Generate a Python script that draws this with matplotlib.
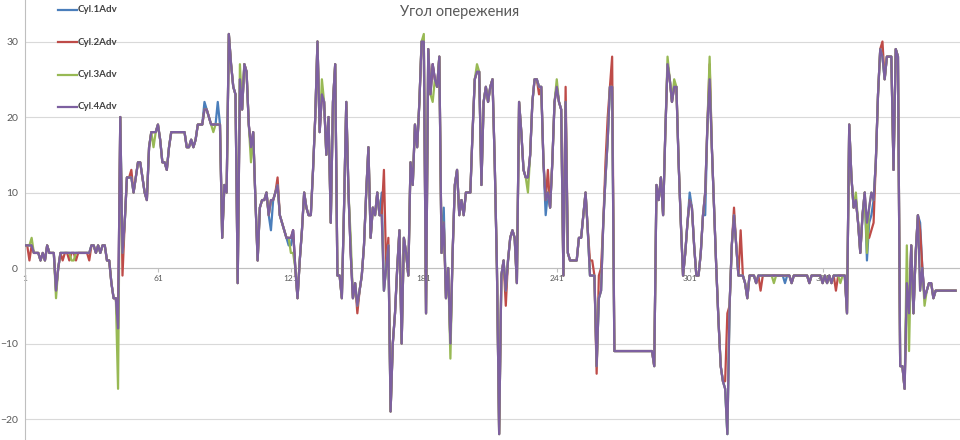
import matplotlib
matplotlib.use("Agg")
import matplotlib.pyplot as plt
from matplotlib.lines import Line2D

title = "Угол опережения"
labels = ["Cyl.1Adv", "Cyl.2Adv", "Cyl.3Adv", "Cyl.4Adv"]
colors = ["#4A7EBB", "#BE4B48", "#98B954", "#7D60A0"]
x_ticks = [1, 61, 121, 181, 241, 301, 361]
y_ticks = [-20, -10, 0, 10, 20, 30]

# Cyl.4Adv (drawn on top), one value per sample 1..421
cyl4 = [
    3, 3, 3, 3, 2, 2, 2, 1, 2, 1, 3, 2, 2, 2, -3, 0,
    2, 2, 2, 2, 2, 2, 2, 2, 2, 2, 2, 2, 2, 2,
    3, 3, 2, 3, 2, 3, 3,
    1, 1, -2, -4, -4, -8, 20, 2, 6,
    12, 12, 12, 10, 12, 14, 14, 12, 10, 9,
    16, 18, 18, 18, 19, 17, 14, 14, 13, 16,
    18, 18, 18, 18, 18, 18, 18,
    16, 16, 17, 16, 17, 19, 19, 19, 21, 21, 20, 19, 19, 19, 19, 19,
    4, 11, 10, 31, 27, 24, 23, -2, 25, 21, 27, 26, 19, 16, 18, 9, 1, 8, 9, 9,
    10, 7, 9, 9, 10, 11, 7, 6, 5, 4, 4, 4, 5, 0, -4, 1, 5, 10, 8, 7,
    7, 13, 20, 30, 18, 23, 22, 15, 20, 6, 22, 27, -1, -1, -4, 8, 22, 10, 2, -4,
    -2, -5, -3, -1, 3, 10, 16, 4, 8, 7, 10, 7, 7, -3, 0, 3, -19, -10, -6, 0,
    5, -10, 4, 2, -1, 14, 11, 19, 16, 22, 30, 30, -6, 29, 23, 27, 25, 24, 28, 2,
    6, -4, 0, -10, 2, 11, 13, 7, 9, 7, 10,
    10,
    10, 18, 25, 26, 26, 11, 22, 24, 22, 24, 25, 14, 0, -22, -1, 1, -3, 1, 4, 5,
    4, -2, 22, 18, 13, 12, 12, 15, 22, 25, 25, 24, 24, 14, 9, 10, 8, 14, 22,
    24, 22, 21, -1, 22, 2, 1, 1, 1, 1, 4, 4, 7, 10, 5, -1, -1, -1, -13, -4,
    -3, 6, 12, 17, 24, 24,
    -11, -11, -11, -11, -11, -11, -11, -11, -11, -11, -11, -11, -11, -11, -11, -11, -11, -11,
    -13, 11, 9, 12, 7, 18, 27, 25, 22, 24, 24, 14, 6, -1, 2, 6, 9, 8, 3, -1,
    -1, 2, 7, 10, 19, 25, 16, 8, 0, -7, -13, -15, -16, -22, -5, 3, 7, 3, -1, -1,
    -1, -2, -4,
    -1, -1, -1, -2, -1, -1, -1, -1, -1, -1, -1, -1, -1, -1, -1, -1, -1, -1, -1, -2,
    -1, -1, -1, -1, -1, -1, -1, -2, -1, -1, -1, -1, -1, -2, -1, -2, -1, -2, -1, -1,
    -1, -1, -1, -1,
    -6, 19, 12, 8, 9, 6, 2, 7, 10, 6, 8, 10, 9, 14, 23, 29, 28, 25, 28, 28,
    28, 13, 29, 28, -13, -13, -16, -2, -6, 3, -6, 2, 7, -3, 0, -4, -3, -2, -2, -4,
    -3, -3, -3, -3, -3, -3, -3, -3, -3, -3,
]

# other cylinders: same trace except at these samples (sample number: value)
cyl1_diff = {82: 22, 88: 22, 112: 5, 120: 3, 121: 3, 162: 10, 190: 8, 236: 7,
             301: 10, 308: 7, 344: -2, 381: 1, 382: 6, 383: 7, 405: 6}
cyl2_diff = {3: 1, 18: 1, 21: 1, 24: 1, 30: 1, 45: -1, 49: 13, 115: 12, 151: -6,
             163: 13, 165: 4, 218: -5, 233: 23, 237: 13, 245: 24, 256: 1, 257: 1,
             259: -14, 260: -1, 261: 0, 263: 14, 264: 20, 266: 28, 310: 27,
             317: -15, 318: -6, 321: 8, 324: 5, 333: -3, 367: -3, 381: 4, 382: 4,
             383: 5, 384: 6, 388: 30, 405: 5}
cyl3_diff = {4: 4, 15: -4, 22: 1, 23: 1, 43: -16, 59: 16, 86: 18, 98: 27, 103: 14,
             121: 2, 122: 2, 135: 25, 148: 4, 181: 31, 185: 22, 193: -12, 205: 27,
             228: 10, 241: 25, 291: 28, 294: 25, 310: 28, 339: -2, 369: -2, 376: 10,
             381: 2, 399: 3, 400: -11, 407: -5}

samples = list(range(1, len(cyl4) + 1))


def build(diff):
    vals = list(cyl4)
    for k, v in diff.items():
        vals[k - 1] = v
    return vals


series = [build(cyl1_diff), build(cyl2_diff), build(cyl3_diff), cyl4]

plt.rcParams["font.family"] = ["Lato", "DejaVu Sans"]
fig = plt.figure(figsize=(9.6, 4.4), dpi=100)
ax = fig.add_axes([25 / 960, 0, 935 / 960, 1])

for vals, col in zip(series, colors):
    ax.plot(samples, vals, color=col, lw=1.6, solid_joinstyle="round", zorder=3)

ax.set_xlim(1, 423)
ax.set_ylim(-22.78, 35.5)
ax.set_yticks(y_ticks)
ax.set_xticks(x_ticks)
ax.set_xticklabels([str(t) for t in x_ticks])
ax.yaxis.grid(True, color="#D9D9D9", lw=0.8)
ax.set_axisbelow(True)
for s in ("top", "right"):
    ax.spines[s].set_visible(False)
ax.spines["left"].set_color("#BFBFBF")
ax.spines["bottom"].set_position(("data", 0))
ax.spines["bottom"].set_color("#BFBFBF")
ax.tick_params(axis="y", length=0, pad=5, labelsize=7.5, labelcolor="#595959")
ax.tick_params(axis="x", length=3, direction="out", color="#BFBFBF", pad=2,
               labelsize=6, labelcolor="#595959")

fig.text(460 / 960, 1 - 12 / 440, title, ha="center", va="center",
         fontsize=10.5, color="#595959")

for k, (lab, col) in enumerate(zip(labels, colors)):
    yy = 1 - (10 + 32.3 * k) / 440
    fig.add_artist(Line2D([58 / 960, 77 / 960], [yy, yy], color=col, lw=1.6))
    fig.text(78 / 960, yy, lab, ha="left", va="center", fontsize=7,
             fontweight="bold", color="#404040")

fig.savefig("out.png", dpi=100)
